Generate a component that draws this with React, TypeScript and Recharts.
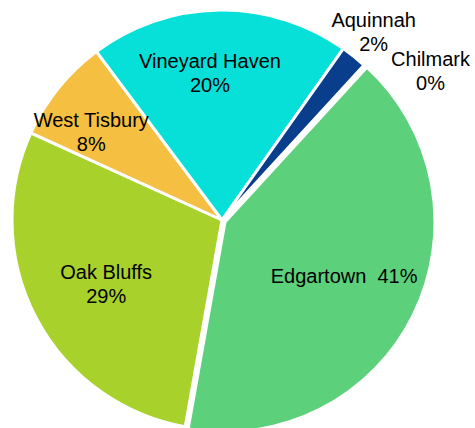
import { PieChart, Pie, Cell } from "recharts";

const towns = ["Edgartown", "Oak Bluffs", "West Tisbury", "Vineyard Haven", "Aquinnah", "Chilmark"];
const shares = [41, 29, 8, 20, 2, 0];
const colors = ["#5cd07b", "#a8d12b", "#f5bf41", "#06e0d8", "#093e8c", "#7f7f7f"];

// label placement (fraction of radius, angle nudge in degrees, one or two lines)
const labelRadius = [0.64, 0.63, 0.75, 0.7, 1.15, 1.22];
const labelNudge = [1.6, 1.2, 5, 4, 0, -12];
const labelOneLine = [true, false, false, false, false, false];

const data = towns.map((name, i) => ({ name, value: shares[i] }));

const RAD = Math.PI / 180;
const CX = 222;
const CY = 220;
const R = 210;

const renderLabel = (props: any) => {
  const { cx, cy, midAngle, index, outerRadius } = props;
  const a = (midAngle + labelNudge[index]) * RAD;
  const r = outerRadius * labelRadius[index];
  const x = cx + r * Math.cos(-a);
  const y = cy + r * Math.sin(-a);
  const name = towns[index];
  const pct = `${shares[index]}%`;
  const style = { fontFamily: "'Liberation Sans', Arial, sans-serif", fontSize: 20, fill: "#000" };
  if (labelOneLine[index]) {
    return (
      <text key={name} x={x} y={y + 7} textAnchor="middle" style={style}>
        {name}{"\u00a0 "}{pct}
      </text>
    );
  }
  return (
    <text key={name} x={x} y={y - 5} textAnchor="middle" style={style}>
      <tspan x={x}>{name}</tspan>
      <tspan x={x} dy={24}>{pct}</tspan>
    </text>
  );
};

export default function App() {
  return (
    <div style={{ position: "absolute", left: 0, top: 0, width: 475, height: 428, background: "#fff" }}>
      <PieChart width={475} height={428} margin={{ top: 0, right: 0, bottom: 0, left: 0 }}>
        {/* Edgartown pulled out a little */}
        <Pie
          data={data}
          dataKey="value"
          cx={CX + 3}
          cy={CY + 2}
          outerRadius={R}
          startAngle={47.5}
          endAngle={-312.5}
          stroke="#fff"
          strokeWidth={3}
          isAnimationActive={false}
          labelLine={false}
        >
          {data.map((d, i) => (
            <Cell
              key={d.name}
              fill={i === 0 ? colors[0] : "none"}
              stroke={i === 0 ? "#fff" : "none"}
            />
          ))}
        </Pie>
        <Pie
          data={data}
          dataKey="value"
          cx={CX}
          cy={CY}
          outerRadius={R}
          startAngle={47.5}
          endAngle={-312.5}
          stroke="#fff"
          strokeWidth={3}
          isAnimationActive={false}
          labelLine={false}
          label={renderLabel}
        >
          {data.map((d, i) => (
            <Cell
              key={d.name}
              fill={i === 0 || shares[i] === 0 ? "none" : colors[i]}
              stroke={i === 0 || shares[i] === 0 ? "none" : "#fff"}
            />
          ))}
        </Pie>
      </PieChart>
    </div>
  );
}
